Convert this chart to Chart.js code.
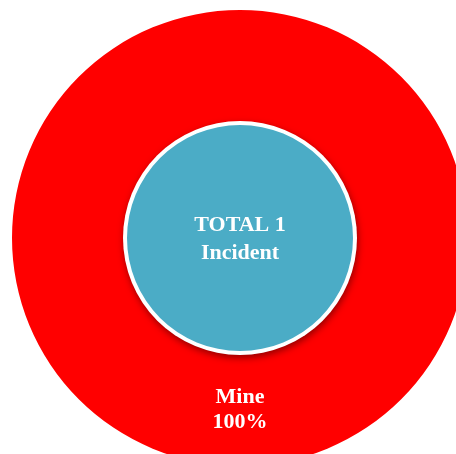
<!DOCTYPE html>
<html lang="en">
  <head>
    <meta charset="UTF-8" />
    <script src="https://cdn.jsdelivr.net/npm/chart.js@4/dist/chart.umd.min.js"></script>
    <title>Incidents</title>
    <style>
      html, body { margin: 0; padding: 0; overflow: hidden; background: #fff; }
      canvas { display: block; }
    </style>
  </head>
  <body>
    <canvas id="chart" width="480" height="480"></canvas>
    <script>
      // chart data
      const categories = ["Mine"];
      const incidents = [1];
      const totalLabel = ["TOTAL", "Incident"];
      const totalValue = [incidents.reduce((a, b) => a + b, 0)];

      const font = '"Liberation Serif", "Times New Roman", serif';

      // white rim + shadow under the inner disc, and all the text
      const decor = {
        id: "decor",
        beforeDatasetDraw(chart, args) {
          if (args.index !== 1) return;
          const arc = chart.getDatasetMeta(1).data[0];
          const { x, y, outerRadius } = arc.getProps(["x", "y", "outerRadius"], true);
          const ctx = chart.ctx;
          ctx.save();
          ctx.shadowColor = "rgba(60,0,0,0.55)";
          ctx.shadowBlur = 7;
          ctx.shadowOffsetX = 1;
          ctx.shadowOffsetY = 3;
          ctx.beginPath();
          ctx.arc(x, y, outerRadius + 4, 0, Math.PI * 2);
          ctx.fillStyle = "#fff";
          ctx.fill();
          ctx.restore();
        },
        afterDatasetsDraw(chart) {
          const ctx = chart.ctx;
          ctx.save();
          ctx.fillStyle = "#fff";
          ctx.textAlign = "center";
          ctx.textBaseline = "middle";
          ctx.font = "bold 22px " + font;

          const inner = chart.getDatasetMeta(1).data[0];
          ctx.fillText(totalLabel[0] + " " + totalValue[0], inner.x, inner.y - 13);
          ctx.fillText(totalLabel[1], inner.x, inner.y + 15);

          const meta = chart.getDatasetMeta(0);
          const sum = incidents.reduce((a, b) => a + b, 0);
          meta.data.forEach((arc, i) => {
            const p = arc.getCenterPoint();
            const pct = Math.round((incidents[i] / sum) * 100) + "%";
            ctx.fillText(categories[i], p.x, p.y - 11);
            ctx.fillText(pct, p.x, p.y + 14);
          });
          ctx.restore();
        },
      };

      new Chart(document.getElementById("chart"), {
        type: "doughnut",
        data: {
          labels: categories,
          datasets: [
            {
              label: "Incidents",
              data: incidents,
              backgroundColor: ["#ff0000"],
              borderWidth: 0,
              hoverOffset: 0,
              weight: 115,
              order: 1,
            },
            {
              label: "Total",
              data: totalValue,
              backgroundColor: ["#4bacc6"],
              borderWidth: 0,
              hoverOffset: 0,
              weight: 113,
              order: 0,
            },
          ],
        },
        options: {
          responsive: false,
          animation: false,
          cutout: 0,
          layout: { padding: { left: 12, right: 12, top: 10, bottom: 14 } },
          plugins: {
            legend: { display: false },
            tooltip: { enabled: false },
          },
          events: [],
        },
        plugins: [decor],
      });
    </script>
  </body>
</html>
